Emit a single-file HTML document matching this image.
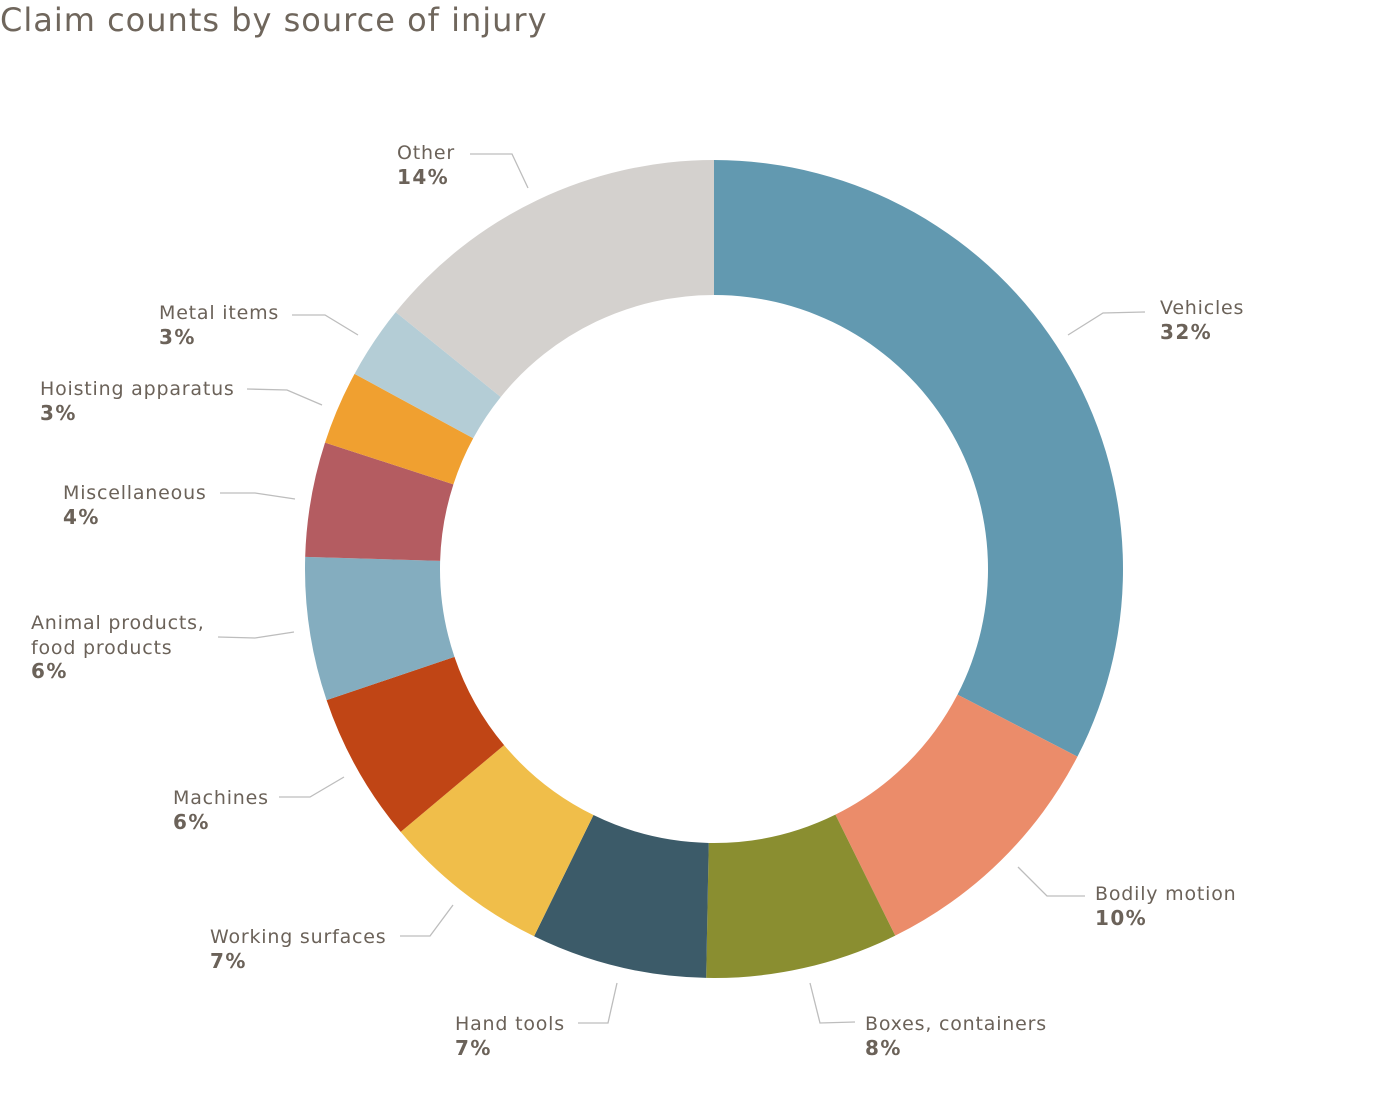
<!DOCTYPE html>
<html><head><meta charset="utf-8"><style>
html,body{margin:0;padding:0;background:#fff;}
body{width:1380px;height:1103px;overflow:hidden;}
svg text{font-family:"DejaVu Sans","Liberation Sans",sans-serif;fill:#6b6259;}
svg text.b{font-weight:bold;font-size:20px;letter-spacing:1.4px;}
</style></head><body>
<svg id="s" width="1380" height="1103" xmlns="http://www.w3.org/2000/svg">
<text x="0" y="31" font-size="32" letter-spacing="1" style="fill:#6f665c">Claim counts by source of injury</text>
<g id="donut"></g>
<g stroke="#bdbdbd" stroke-width="1.3" fill="none">
<polyline points="470,154 512,154 528,188"/>
<polyline points="1068,335 1103,313 1145,312"/>
<polyline points="1018,867 1047,896 1085,896"/>
<polyline points="810,983 820,1023 855,1022"/>
<polyline points="617,983 608,1023 578,1023"/>
<polyline points="453,905 430,936 400,936"/>
<polyline points="344,777 310,797 279,797"/>
<polyline points="294,632 255,638 218,637"/>
<polyline points="295,499 255,493 220,493"/>
<polyline points="322,405 287,390 247,389"/>
<polyline points="358,335 325,315 292,315"/>
</g>
<g font-size="19" letter-spacing="0.8">
<text x="397" y="159">Other</text><text x="397" y="184" class="b">14%</text>
<text x="1160" y="314">Vehicles</text><text x="1160" y="339" class="b">32%</text>
<text x="1095" y="900">Bodily motion</text><text x="1095" y="925" class="b">10%</text>
<text x="865" y="1030">Boxes, containers</text><text x="865" y="1055" class="b">8%</text>
<text x="455" y="1030">Hand tools</text><text x="455" y="1055" class="b">7%</text>
<text x="210" y="943">Working surfaces</text><text x="210" y="968" class="b">7%</text>
<text x="173" y="804">Machines</text><text x="173" y="829" class="b">6%</text>
<text x="31" y="629">Animal products,</text><text x="31" y="654">food products</text><text x="31" y="678" class="b">6%</text>
<text x="63" y="499">Miscellaneous</text><text x="63" y="524" class="b">4%</text>
<text x="40" y="395">Hoisting apparatus</text><text x="40" y="420" class="b">3%</text>
<text x="159" y="319">Metal items</text><text x="159" y="344" class="b">3%</text>
</g>
</svg>
<script>
var cx=714,cy=569,R=409,r=274;
var b=[0,117.3,153.7,181.1,206.1,230,251.3,271.7,288,298.5,308.9,360];
var c=["#6299b0","#eb8c6a","#8a8e30","#3c5b69","#f0be4a","#c04515","#84adbf","#b45c61","#f0a030","#b4cdd6","#d4d1ce"];
function p(a,rad){var t=a*Math.PI/180;return [cx+rad*Math.sin(t),cy-rad*Math.cos(t)];}
var g=document.getElementById("donut"),h="";
for(var i=0;i<11;i++){var a0=b[i],a1=b[i+1],l=(a1-a0)>180?1:0;
var A=p(a0,R),B=p(a1,R),C=p(a1,r),D=p(a0,r);
h+='<path fill="'+c[i]+'" d="M'+A+' A'+R+','+R+' 0 '+l+' 1 '+B+' L'+C+' A'+r+','+r+' 0 '+l+' 0 '+D+' Z"/>';}
g.innerHTML=h;
</script>
</body></html>
